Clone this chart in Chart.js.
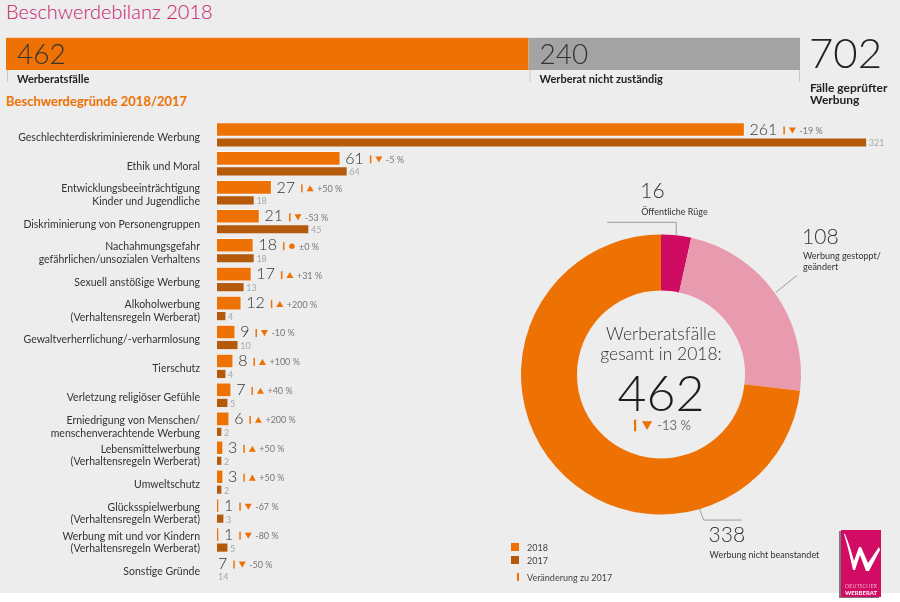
<!DOCTYPE html>
<html lang="de">
<head>
<meta charset="UTF-8">
<title>Beschwerdebilanz 2018</title>
<style>
  body { margin: 0; background: #fff; font-family: "Lato", sans-serif; }
  #page { position: relative; width: 900px; height: 602px; background: #fff; overflow: hidden; }
  #bg { position: absolute; left: 0; top: 0; width: 900px; height: 593px; background: #ededed; }
  canvas { position: absolute; }
  .txt { position: absolute; white-space: nowrap; line-height: 1; }
  #title { left: 6px; top: 1px; font-size: 20px; font-weight: 300; color: #c8176f; }
  #subtitle { left: 6px; top: 95px; font-size: 13px; font-weight: bold; color: #ee7203; }
  .sq { position: absolute; width: 8px; height: 8px; }
  .leg { position: absolute; font-size: 9px; color: #444; line-height: 1; }
  #logo { position: absolute; left: 841px; top: 530px; width: 40px; height: 67px; background: #d20b64; box-shadow: -2px 1px 0 #7a7a7a; }
  #logo svg { position: absolute; left: 0; top: 0; }
  #logo .l1, #logo .l2 { position: absolute; left: 0; width: 40px; text-align: center; color: #fff; line-height: 1; }
  #logo .l1 { top: 54px; font-size: 5.5px; font-weight: 300; }
  #logo .l2 { top: 60px; font-size: 6px; font-weight: bold; }
</style>
</head>
<body>
<div id="page">
  <div id="bg"></div>
  <div id="title" class="txt">Beschwerdebilanz 2018</div>
  <div id="subtitle" class="txt">Beschwerdegründe 2018/2017</div>

  <canvas id="topChart" width="900" height="80" style="left:0;top:30px"></canvas>
  <canvas id="reasonChart" width="900" height="490" style="left:0;top:110px"></canvas>
  <canvas id="donutChart" width="400" height="380" style="left:500px;top:180px"></canvas>

  <div class="sq" style="left:511px;top:543px;background:#ee7203"></div>
  <div class="leg" style="left:527px;top:543px">2018</div>
  <div class="sq" style="left:511px;top:556px;background:#b55a0b"></div>
  <div class="leg" style="left:527px;top:556px">2017</div>
  <div class="sq" style="left:517px;top:573px;width:1.5px;background:#ee7203"></div>
  <div class="leg" style="left:527px;top:573px">Veränderung zu 2017</div>

  <div id="logo">
    <svg width="40" height="50" viewBox="0 0 40 50">
      <path d="M3 4 C6 14 9 26 12 40 L14 40 L19 25 L25 41 L28 41 L39 20 L38 17 L27 33 L20 17 L18 17 L13 31 C10 20 7 11 4 4 Z" fill="#fff"/>
    </svg>
    <div class="l1">DEUTSCHER</div>
    <div class="l2">WERBERAT</div>
  </div>
</div>

<script src="https://cdn.jsdelivr.net/npm/chart.js"></script>
<script>
  // Werbung geprüft 2018
  const topLabels = ['Werberatsfälle', 'Werberat nicht zuständig'];
  const topValues = [462, 240];
  const topTotalLabel = ['Fälle geprüfter', 'Werbung'];

  // Beschwerdegründe 2018/2017
  const reasons = [
    ['Geschlechterdiskriminierende Werbung'],
    ['Ethik und Moral'],
    ['Entwicklungsbeeinträchtigung', 'Kinder und Jugendliche'],
    ['Diskriminierung von Personengruppen'],
    ['Nachahmungsgefahr', 'gefährlichen/unsozialen Verhaltens'],
    ['Sexuell anstößige Werbung'],
    ['Alkoholwerbung', '(Verhaltensregeln Werberat)'],
    ['Gewaltverherrlichung/-verharmlosung'],
    ['Tierschutz'],
    ['Verletzung religiöser Gefühle'],
    ['Erniedrigung von Menschen/', 'menschenverachtende Werbung'],
    ['Lebensmittelwerbung', '(Verhaltensregeln Werberat)'],
    ['Umweltschutz'],
    ['Glücksspielwerbung', '(Verhaltensregeln Werberat)'],
    ['Werbung mit und vor Kindern', '(Verhaltensregeln Werberat)'],
    ['Sonstige Gründe']
  ];
  const cases2018 = [261, 61, 27, 21, 18, 17, 12, 9, 8, 7, 6, 3, 3, 1, 1, 7];
  const cases2017 = [321, 64, 18, 45, 18, 13, 4, 10, 4, 5, 2, 2, 2, 3, 5, 14];
  const changePct = [-19, -5, 50, -53, 0, 31, 200, -10, 100, 40, 200, 50, 50, -67, -80, -50];
  const noBar = ['Sonstige Gründe'];

  // Ergebnis der Werberatsfälle
  const outcomeLabels = [['Öffentliche Rüge'], ['Werbung gestoppt/', 'geändert'], ['Werbung nicht beanstandet']];
  const outcomeValues = [16, 108, 338];
  const outcomeTotalChange = -13;

  const ORANGE = '#ee7203';
  const DARK_ORANGE = '#b55a0b';
  const FONT = 'Lato';
  Chart.defaults.font.family = FONT;

  function fmtPct(v) {
    if (v > 0) return '+' + v + ' %';
    if (v < 0) return '-' + Math.abs(v) + ' %';
    return '±0 %';
  }

  function drawMark(ctx, x, y, v, s) {
    ctx.beginPath();
    if (v === 0) {
      ctx.arc(x, y, s * 0.4, 0, Math.PI * 2);
    } else if (v < 0) {
      ctx.moveTo(x - s / 2, y - s * 0.42);
      ctx.lineTo(x + s / 2, y - s * 0.42);
      ctx.lineTo(x, y + s * 0.45);
    } else {
      ctx.moveTo(x - s / 2, y + s * 0.42);
      ctx.lineTo(x + s / 2, y + s * 0.42);
      ctx.lineTo(x, y - s * 0.45);
    }
    ctx.closePath();
    ctx.fill();
  }

  // change marker: | ▲ +xx %
  function drawChange(ctx, x, y, v, scale) {
    ctx.fillStyle = ORANGE;
    ctx.fillRect(x, y - 4 * scale, 1.5 * scale, 8 * scale);
    drawMark(ctx, x + 9 * scale, y, v, 7 * scale);
    ctx.fillStyle = '#777';
    ctx.font = (9 * scale) + 'px ' + FONT;
    ctx.textAlign = 'left';
    ctx.textBaseline = 'middle';
    ctx.fillText(fmtPct(v), x + 16 * scale, y + 0.5);
  }

  const topTextPlugin = {
    id: 'topText',
    afterDatasetsDraw(chart) {
      const ctx = chart.ctx;
      ctx.save();
      ctx.textBaseline = 'middle';
      ctx.textAlign = 'left';
      let right = 0, bottom = 0;
      chart.data.datasets.forEach((ds, i) => {
        const el = chart.getDatasetMeta(i).data[0];
        const left = el.base;
        bottom = el.y + el.height / 2;
        right = el.x;
        ctx.fillStyle = '#333';
        ctx.font = '300 28px ' + FONT;
        ctx.fillText(String(ds.data[0]), left + 11, el.y + 1);
        ctx.fillStyle = '#222';
        ctx.font = 'bold 11px ' + FONT;
        ctx.fillText(ds.label, left + 11, bottom + 9);
        ctx.fillStyle = '#c9c9c9';
        ctx.fillRect(left + 1, bottom, 1, 12);
      });
      ctx.fillRect(right - 1, bottom, 1, 12);
      const total = topValues.reduce((a, b) => a + b, 0);
      const a = chart.chartArea;
      ctx.fillStyle = '#222';
      ctx.font = '300 42px ' + FONT;
      ctx.fillText(String(total), a.right + 9, (a.top + a.bottom) / 2 + 1);
      ctx.font = 'bold 12px ' + FONT;
      topTotalLabel.forEach((t, k) => ctx.fillText(t, a.right + 10, a.bottom + 18 + k * 12));
      ctx.restore();
    }
  };

  new Chart(document.getElementById('topChart'), {
    type: 'bar',
    data: {
      labels: ['2018'],
      datasets: topLabels.map((l, i) => ({
        label: l,
        data: [topValues[i]],
        backgroundColor: [ORANGE, '#a3a3a3'][i],
        borderColor: 'rgba(255,255,255,0.45)',
        borderWidth: { top: 1 },
        barPercentage: 1,
        categoryPercentage: 1
      }))
    },
    options: {
      indexAxis: 'y',
      responsive: false,
      animation: false,
      events: [],
      layout: { padding: { left: 6, right: 100, top: 7, bottom: 40 } },
      scales: {
        x: { stacked: true, display: false, min: 0, max: topValues.reduce((a, b) => a + b, 0) },
        y: { stacked: true, display: false }
      },
      plugins: { legend: { display: false }, tooltip: { enabled: false } }
    },
    plugins: [topTextPlugin]
  });

  const hidden = reasons.map(r => noBar.includes(r.join(' ')));

  const reasonLabelPlugin = {
    id: 'reasonLabels',
    afterDatasetsDraw(chart) {
      const ctx = chart.ctx;
      const m0 = chart.getDatasetMeta(0).data;
      const m1 = chart.getDatasetMeta(1).data;
      ctx.save();
      ctx.textAlign = 'left';
      ctx.textBaseline = 'middle';
      m0.forEach((el, i) => {
        const x0 = hidden[i] ? el.base : el.x;
        ctx.fillStyle = '#333';
        ctx.font = '300 16px ' + FONT;
        const txt = String(cases2018[i]);
        const tx = x0 + (hidden[i] ? 1 : 5);
        ctx.fillText(txt, tx, el.y);
        const w = ctx.measureText(txt).width;
        drawChange(ctx, tx + w + 6, el.y + 1, changePct[i], 1);
        const e1 = m1[i];
        const x1 = hidden[i] ? e1.base : e1.x;
        ctx.fillStyle = '#a9a9a9';
        ctx.font = '9px ' + FONT;
        ctx.textBaseline = 'middle';
        ctx.fillText(String(cases2017[i]), x1 + (hidden[i] ? 1 : 3), e1.y + 1);
      });
      ctx.restore();
    }
  };

  new Chart(document.getElementById('reasonChart'), {
    type: 'bar',
    data: {
      labels: reasons,
      datasets: [
        {
          label: '2018',
          data: cases2018,
          backgroundColor: hidden.map(h => h ? 'rgba(0,0,0,0)' : ORANGE),
          borderColor: hidden.map(h => h ? 'rgba(0,0,0,0)' : 'rgba(255,255,255,0.55)'),
          borderWidth: { top: 1, bottom: 1, right: 1 },
          borderSkipped: 'start',
          barThickness: 16,
          maxBarThickness: 14
        },
        {
          label: '2017',
          data: cases2017,
          backgroundColor: hidden.map(h => h ? 'rgba(0,0,0,0)' : DARK_ORANGE),
          barThickness: 10,
          maxBarThickness: 7.5
        }
      ]
    },
    options: {
      indexAxis: 'y',
      responsive: false,
      animation: false,
      events: [],
      layout: { padding: { left: 0, right: 16, top: 13, bottom: 14 } },
      scales: {
        x: { display: false, min: 0, max: 330 },
        y: {
          afterFit(scale) {
            scale.width = 217;
            scale.paddingTop = 0;
            scale.paddingBottom = 0;
          },
          grid: { display: false, drawTicks: false },
          border: { display: false },
          ticks: { padding: 17, color: '#333', font: { size: 10.5 }, autoSkip: false }
        }
      },
      plugins: { legend: { display: false }, tooltip: { enabled: false } }
    },
    plugins: [reasonLabelPlugin]
  });

  const donutTextPlugin = {
    id: 'donutText',
    afterDatasetsDraw(chart) {
      const ctx = chart.ctx;
      const arcs = chart.getDatasetMeta(0).data;
      const cx = arcs[0].x, cy = arcs[0].y, r = arcs[0].outerRadius;
      const pt = (deg, rr) => {
        const a = deg * Math.PI / 180;
        return [cx + rr * Math.sin(a), cy - rr * Math.cos(a)];
      };
      const total = outcomeValues.reduce((a, b) => a + b, 0);
      ctx.save();
      // centre
      ctx.fillStyle = '#333';
      ctx.textAlign = 'center';
      ctx.textBaseline = 'middle';
      ctx.font = '300 17.5px ' + FONT;
      ctx.fillText('Werberatsfälle', cx, cy - 40);
      ctx.fillText('gesamt in 2018:', cx, cy - 20);
      ctx.fillStyle = '#1e1e1e';
      ctx.font = '300 50px ' + FONT;
      ctx.fillText(String(total), cx, cy + 20);
      drawChange(ctx, cx - 27, cy + 51, outcomeTotalChange, 1.45);

      ctx.strokeStyle = '#9a9a9a';
      ctx.lineWidth = 1;
      // 16 – Öffentliche Rüge
      let a = outcomeValues[0] / 2 / total * 360;
      let p = pt(a, r);
      ctx.beginPath();
      ctx.moveTo(p[0], p[1]);
      ctx.lineTo(p[0], p[1] - 13);
      ctx.lineTo(p[0] - 69, p[1] - 13);
      ctx.stroke();
      ctx.fillStyle = '#333';
      ctx.font = '300 21px ' + FONT;
      ctx.fillText(String(outcomeValues[0]), p[0] - 36, p[1] - 44);
      ctx.font = '9px ' + FONT;
      ctx.fillText(outcomeLabels[0][0], p[0] - 35, p[1] - 23);

      // 108 – Werbung gestoppt/geändert
      a = (outcomeValues[0] + outcomeValues[1] / 2) / total * 360;
      p = pt(a, r);
      ctx.beginPath();
      ctx.moveTo(p[0] + 1, p[1] - 1);
      ctx.lineTo(p[0] + 22, p[1] - 18);
      ctx.stroke();
      ctx.textAlign = 'left';
      ctx.font = '300 21px ' + FONT;
      ctx.fillText(String(outcomeValues[1]), p[0] + 27, p[1] - 56);
      ctx.font = '9px ' + FONT;
      outcomeLabels[1].forEach((t, k) => ctx.fillText(t, p[0] + 28, p[1] - 37 + k * 11));

      // 338 – Werbung nicht beanstandet
      p = pt(164, r);
      ctx.beginPath();
      ctx.moveTo(p[0], p[1]);
      ctx.lineTo(p[0] + 4, p[1] + 11);
      ctx.lineTo(p[0] + 42, p[1] + 11);
      ctx.stroke();
      ctx.font = '300 21px ' + FONT;
      ctx.fillText(String(outcomeValues[2]), p[0] + 9, p[1] + 26);
      ctx.font = '9px ' + FONT;
      ctx.fillText(outcomeLabels[2][0], p[0] + 10, p[1] + 46);
      ctx.restore();
    }
  };

  new Chart(document.getElementById('donutChart'), {
    type: 'doughnut',
    data: {
      labels: outcomeLabels.map(l => l.join(' ')),
      datasets: [{
        data: outcomeValues,
        backgroundColor: ['#d00b62', '#e89aae', ORANGE],
        borderWidth: 0
      }]
    },
    options: {
      responsive: false,
      animation: false,
      events: [],
      cutout: '60%',
      layout: { padding: { left: 21, right: 99, top: 54.5, bottom: 45.5 } },
      plugins: { legend: { display: false }, tooltip: { enabled: false } }
    },
    plugins: [donutTextPlugin]
  });
</script>
</body>
</html>
